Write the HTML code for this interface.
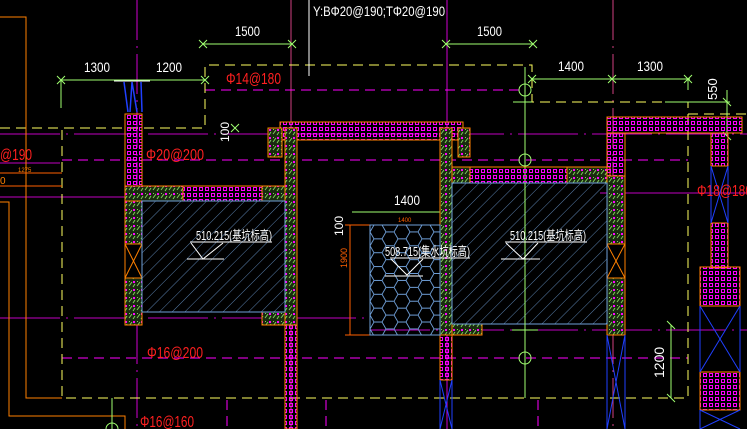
<!DOCTYPE html>
<html><head><meta charset="utf-8"><style>
html,body{margin:0;padding:0;background:#000;width:747px;height:429px;overflow:hidden}
svg{display:block}
text{font-family:"Liberation Sans","Noto Sans CJK SC",sans-serif}
</style></head><body>
<svg width="747" height="429" viewBox="0 0 747 429" xmlns="http://www.w3.org/2000/svg">
<defs>
<pattern id="sq" width="6" height="6" patternUnits="userSpaceOnUse"><rect x="1.5" y="1.5" width="3" height="3" fill="none" stroke="#ff00ff" stroke-width="1"/></pattern>
<pattern id="cc" width="8" height="8" patternUnits="userSpaceOnUse"><rect width="8" height="8" fill="#1a2a10"/><path d="M1 6 L4 2 M5 7 L7 4" stroke="#7fd05a" stroke-width="1"/><rect x="5" y="1" width="2" height="2" fill="#ff00ff"/><rect x="1" y="1" width="1" height="1" fill="#7fd05a"/></pattern>
<pattern id="ht" width="9" height="9" patternUnits="userSpaceOnUse" patternTransform="rotate(45)"><line x1="0" y1="0" x2="0" y2="9" stroke="#6f9fd8" stroke-width="0.8"/></pattern>
<pattern id="hx" width="24" height="13.86" patternUnits="userSpaceOnUse" x="370" y="225"><path d="M0 6.93 L4 0 L12 0 L16 6.93 L12 13.86 L4 13.86 Z M16 6.93 L24 6.93" fill="none" stroke="#6f9fd8" stroke-width="0.9"/></pattern>
</defs>
<g fill="none" stroke-width="1">
<line x1="0" y1="134" x2="747" y2="134" stroke="#c000c0" stroke-dasharray="60 6 2 6"/>
<line x1="0" y1="318" x2="370" y2="318" stroke="#c000c0" stroke-dasharray="60 6 2 6"/>
<line x1="370" y1="330" x2="747" y2="330" stroke="#c000c0" stroke-dasharray="60 6 2 6"/>
<line x1="0" y1="197" x2="125" y2="197" stroke="#c000c0"/>
<line x1="600" y1="193" x2="747" y2="193" stroke="#c000c0"/>
<line x1="0" y1="163" x2="60" y2="163" stroke="#c000c0"/>
<line x1="137" y1="0" x2="137" y2="429" stroke="#d000d0" stroke-dasharray="40 6 2 6"/>
<line x1="291" y1="0" x2="291" y2="429" stroke="#d04080"/>
<line x1="447" y1="0" x2="447" y2="429" stroke="#d000d0"/>
<line x1="613" y1="0" x2="613" y2="429" stroke="#d04080" stroke-dasharray="40 6 2 6"/>
<line x1="205" y1="90" x2="520" y2="90" stroke="#ff00ff" stroke-dasharray="10 6"/>
<line x1="62" y1="160" x2="688" y2="160" stroke="#ff00ff" stroke-dasharray="10 6"/>
<line x1="62" y1="358" x2="688" y2="358" stroke="#ff00ff" stroke-dasharray="10 6"/>
<line x1="227" y1="400" x2="227" y2="429" stroke="#ff00ff" stroke-dasharray="10 6"/>
<line x1="326" y1="400" x2="326" y2="429" stroke="#ff00ff" stroke-dasharray="10 6"/>
<line x1="538" y1="400" x2="538" y2="429" stroke="#ff00ff" stroke-dasharray="10 6"/>
<polyline points="0,128 205,128 205,65 532,65 532,102 688,102 688,398 62,398 62,128" stroke="#ffff60" stroke-dasharray="10 6"/>
<line x1="688" y1="114" x2="747" y2="114" stroke="#ffff60" stroke-dasharray="10 6"/>
<line x1="309" y1="0" x2="309" y2="76" stroke="#fff"/>
<polyline points="0,17 26,17 26,398 62,398" stroke="#ff8000"/>
<polyline points="0,202 9,202 9,416 125,416 125,429" stroke="#ff8000"/>
<line x1="0" y1="173" x2="62" y2="173" stroke="#ff6000"/>
<line x1="0" y1="186" x2="62" y2="186" stroke="#ff6000"/>
<g stroke="#a0ff70">
<line x1="203" y1="44" x2="292" y2="44"/><line x1="446" y1="44" x2="533" y2="44"/>
<line x1="61" y1="80" x2="205" y2="80"/><line x1="61" y1="80" x2="61" y2="108"/>
<line x1="532" y1="79" x2="690" y2="79"/><line x1="688" y1="79" x2="688" y2="90"/>
<line x1="665" y1="102" x2="730" y2="102"/><line x1="727" y1="90" x2="727" y2="136"/>
<line x1="352" y1="212" x2="447" y2="212"/>
<line x1="671" y1="325" x2="671" y2="398"/>
<line x1="525" y1="67" x2="525" y2="398"/>
<line x1="513" y1="102" x2="532" y2="102"/>
<circle cx="525" cy="90" r="6"/><circle cx="525" cy="160" r="6"/><circle cx="525" cy="358" r="6"/>
<line x1="512" y1="330" x2="538" y2="330"/>
<line x1="112" y1="398" x2="112" y2="429"/><path d="M106 429 A6 6 0 0 1 118 429"/>
<path d="M199 40 l8 8 M199 48 l8 -8 M288 40 l8 8 M288 48 l8 -8 M442 40 l8 8 M442 48 l8 -8 M529 40 l8 8 M529 48 l8 -8 M57 76 l8 8 M57 84 l8 -8 M201 76 l8 8 M201 84 l8 -8 M528 75 l8 8 M528 83 l8 -8 M608 75 l8 8 M608 83 l8 -8 M684 75 l8 8 M684 83 l8 -8 M723 98 l8 8 M723 132 l8 8 M667 321 l8 8 M667 394 l8 8 M231 124 l8 8 M231 132 l8 -8"/>
</g>
<line x1="350" y1="225" x2="350" y2="335" stroke="#ff6000"/>
<line x1="345" y1="225" x2="370" y2="225" stroke="#ff6000"/>
<line x1="345" y1="335" x2="370" y2="335" stroke="#ff6000"/>
<line x1="370" y1="225" x2="445" y2="225" stroke="#ff6000"/>
<line x1="114" y1="81" x2="150" y2="81" stroke="#fff"/>
<path d="M124 82 L128 112 M141 82 L142 112 M132 82 L137 112 M132 82 L130 112" stroke="#2040ff" stroke-width="1.5"/>
</g>
<g stroke="#ff8000" stroke-width="1">
<rect x="125" y="114" width="17" height="72" fill="url(#sq)"/>
<rect x="183" y="186" width="80" height="15" fill="url(#sq)"/>
<rect x="280" y="122" width="183" height="18" fill="url(#sq)"/>
<rect x="470" y="167" width="140" height="16" fill="url(#sq)"/>
<rect x="607" y="117" width="135" height="16" fill="url(#sq)"/>
<rect x="607" y="133" width="18" height="43" fill="url(#sq)"/>
<rect x="711" y="133" width="17" height="33" fill="url(#sq)"/>
<rect x="711" y="223" width="17" height="45" fill="url(#sq)"/>
<rect x="700" y="267" width="40" height="39" fill="url(#sq)"/>
<rect x="700" y="372" width="40" height="38" fill="url(#sq)"/>
<rect x="440" y="335" width="12" height="45" fill="url(#sq)"/>
<rect x="285" y="325" width="12" height="104" fill="url(#sq)"/>
<rect x="125" y="186" width="58" height="15" fill="url(#cc)"/>
<rect x="125" y="201" width="17" height="124" fill="url(#cc)"/>
<rect x="262" y="186" width="23" height="15" fill="url(#cc)"/>
<rect x="285" y="128" width="12" height="197" fill="url(#cc)"/>
<rect x="268" y="128" width="14" height="29" fill="url(#cc)"/>
<rect x="262" y="312" width="23" height="13" fill="url(#cc)"/>
<rect x="440" y="128" width="12" height="207" fill="url(#cc)"/>
<rect x="458" y="128" width="12" height="29" fill="url(#cc)"/>
<rect x="452" y="167" width="18" height="16" fill="url(#cc)"/>
<rect x="567" y="167" width="40" height="16" fill="url(#cc)"/>
<rect x="607" y="176" width="18" height="159" fill="url(#cc)"/>
<rect x="452" y="324" width="30" height="11" fill="url(#cc)"/>
</g>
<g stroke="#ff8000" fill="#000">
<rect x="125" y="244" width="17" height="34"/><path d="M125 244 L142 278 M142 244 L125 278"/>
<rect x="607" y="244" width="18" height="34"/><path d="M607 244 L625 278 M625 244 L607 278"/>
</g>
<g stroke="#2040ff" fill="none">
<path d="M711 166 L728 223 M728 166 L711 223 M711 166 V223 M728 166 V223"/>
<path d="M700 306 L740 372 M740 306 L700 372 M700 306 V372 M740 306 V372 M700 410 L740 429 M740 410 L700 429 M700 410 V429"/>
<path d="M607 335 V429 M625 335 V429 M607 335 L625 429 M625 335 L607 429"/>
<path d="M440 380 V429 M452 380 V429 M440 380 L452 429 M452 380 L440 429"/>
</g>
<rect x="142" y="201" width="143" height="111" fill="url(#ht)" stroke="#6f9fd8"/>
<rect x="452" y="183" width="155" height="141" fill="url(#ht)" stroke="#6f9fd8"/>
<rect x="370" y="225" width="70" height="110" fill="url(#hx)" stroke="#6f9fd8"/>
<line x1="525" y1="183" x2="525" y2="330" stroke="#a0ff70"/>
<g stroke="#fff" fill="none">
<path d="M190 242 L272 242 M191 243 L203 259 L223 243 M187 259 L224 259"/>
<path d="M505 242 L587 242 M506 243 L523 259 L538 243 M501 259 L540 259"/>
<path d="M390 258 L470 258 M391 259 L407 275 L423 259 M385 276 L423 276"/>
</g>
<g fill="#fff" font-size="14">
<text x="313" y="16" textLength="132" lengthAdjust="spacingAndGlyphs">Y:BΦ20@190;TΦ20@190</text>
<text x="235" y="36" textLength="25" lengthAdjust="spacingAndGlyphs">1500</text><text x="477" y="36" textLength="25" lengthAdjust="spacingAndGlyphs">1500</text>
<text x="84" y="72" textLength="26" lengthAdjust="spacingAndGlyphs">1300</text><text x="156" y="72" textLength="26" lengthAdjust="spacingAndGlyphs">1200</text>
<text x="558" y="71" textLength="26" lengthAdjust="spacingAndGlyphs">1400</text><text x="637" y="71" textLength="26" lengthAdjust="spacingAndGlyphs">1300</text>
<text x="394" y="205" textLength="26" lengthAdjust="spacingAndGlyphs">1400</text>
<text x="196" y="240" font-size="13" textLength="76" lengthAdjust="spacingAndGlyphs">510.215(基坑标高)</text>
<text x="510" y="240" font-size="13" textLength="76" lengthAdjust="spacingAndGlyphs">510.215(基坑标高)</text>
<text x="385" y="256" font-size="13" textLength="85" lengthAdjust="spacingAndGlyphs">508.715(集水坑标高)</text>
<text transform="translate(717,100) rotate(-90)" font-size="13">550</text>
<text transform="translate(229,142) rotate(-90)" font-size="12">100</text>
<text transform="translate(343,236) rotate(-90)" font-size="12">100</text>
<text transform="translate(664,378) rotate(-90)" font-size="14">1200</text>
</g>
<text transform="translate(347,268) rotate(-90)" font-size="9" fill="#ff6000">1900</text>
<text x="18" y="172" font-size="6" fill="#ff8000">1275</text>
<text x="0" y="184" font-size="10" fill="#ff8000">0</text>
<text x="398" y="222" font-size="6" fill="#ff6000">1400</text>
<g fill="#ff2020" font-size="16">
<text x="226" y="84" textLength="55" lengthAdjust="spacingAndGlyphs">Φ14@180</text>
<text x="146" y="160" textLength="58" lengthAdjust="spacingAndGlyphs">Φ20@200</text>
<text x="0" y="160" textLength="32" lengthAdjust="spacingAndGlyphs">@190</text>
<text x="147" y="358" textLength="56" lengthAdjust="spacingAndGlyphs">Φ16@200</text>
<text x="140" y="427" textLength="54" lengthAdjust="spacingAndGlyphs">Φ16@160</text>
<text x="697" y="196" textLength="55" lengthAdjust="spacingAndGlyphs">Φ18@180</text>
</g>
</svg>
</body></html>
